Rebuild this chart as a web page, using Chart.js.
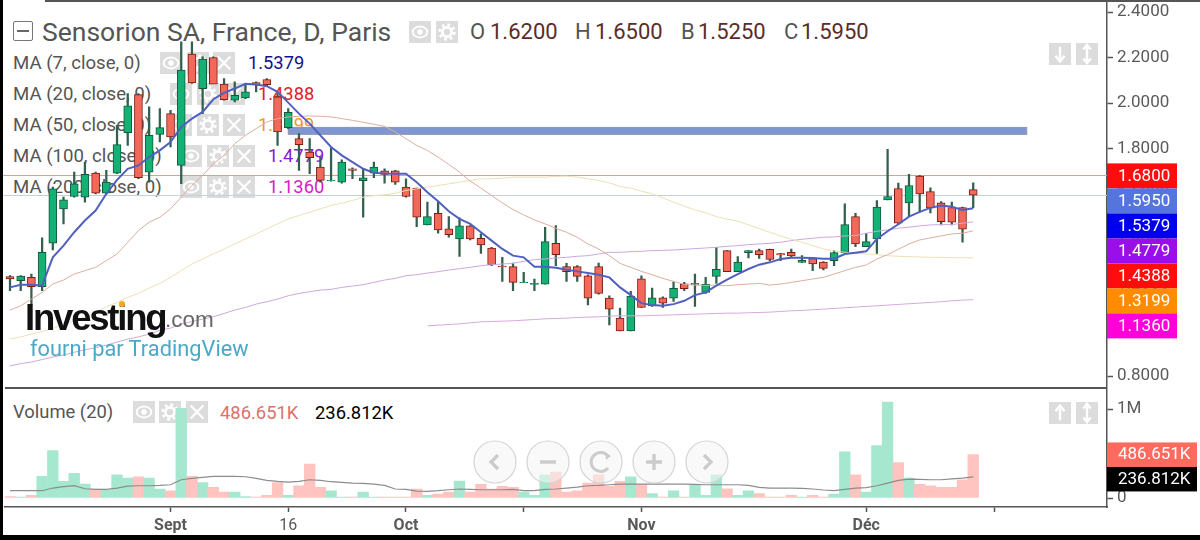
<!DOCTYPE html>
<html><head><meta charset="utf-8">
<script src="https://cdn.jsdelivr.net/npm/chart.js@4"></script>
<style>
html,body{margin:0;padding:0;background:#fff;width:1200px;height:540px;overflow:hidden}
#stage{position:relative;width:1200px;height:540px;overflow:hidden;font-family:Roboto,sans-serif}
canvas{position:absolute;left:0;z-index:1}
.t{position:absolute;white-space:nowrap;line-height:1;transform:translateY(-50%)}
.ic{position:absolute;background:#dcdcdc}
.ov{position:absolute}
</style></head><body><div id="stage">
<canvas id="main" width="1200" height="388" style="top:0;width:1200px;height:388px"></canvas>
<canvas id="vol" width="1200" height="147" style="top:388px;width:1200px;height:147px"></canvas>
</div>
<script>
const opens=[1.2371,1.2194,1.2341,1.1930,1.3839,1.5351,1.5895,1.5865,1.6923,1.6042,
1.6923,1.8700,2.0373,1.6967,1.8626,1.9536,1.7260,2.2150,2.0638,2.2003,
2.0829,2.0124,2.0227,2.0902,2.1034,2.0271,1.8920,1.8435,1.7848,1.7187,
1.6585,1.6526,1.7113,1.6585,1.6923,1.7021,1.7021,1.6305,1.6261,1.4646,
1.5160,1.4470,1.4029,1.4602,1.4059,1.3633,1.2840,1.2810,1.2106,1.2032,
1.2047,1.3838,1.2810,1.2810,1.2414,1.2810,1.1430,1.0549,0.9991,1.2282,
1.1092,1.1445,1.1430,1.2061,1.2032,1.1680,1.2385,1.3516,1.2591,1.3428,
1.3516,1.3575,1.3384,1.3442,1.3002,1.3163,1.3016,1.3075,1.3413,1.5013,
1.3692,1.4030,1.5748,1.6247,1.5616,1.6790,1.6115,1.5616,1.5410,1.5410,1.62];
const closes=[1.2268,1.2400,1.1930,1.3442,1.6233,1.5748,1.6453,1.6864,1.6042,1.6526,
1.8171,1.9874,1.6717,1.8582,1.8920,1.8509,2.1445,2.0887,2.1930,2.0829,
2.0153,2.0344,2.0491,2.0814,2.0814,1.8729,1.9595,1.8171,1.7598,1.6600,
1.6600,1.7407,1.7040,1.6717,1.7187,1.6864,1.6526,1.5894,1.4984,1.5013,
1.4426,1.4220,1.4602,1.4029,1.3765,1.2899,1.2796,1.2120,1.2135,1.2076,
1.3912,1.3339,1.2590,1.2385,1.1430,1.1636,1.0945,0.9991,1.1518,1.1019,
1.1445,1.1210,1.1856,1.1841,1.2076,1.2047,1.2693,1.2591,1.3016,1.3516,
1.3340,1.3134,1.3325,1.3281,1.3090,1.2928,1.2737,1.3428,1.4661,1.3809,
1.3912,1.5425,1.5895,1.4720,1.6379,1.6012,1.5395,1.4793,1.4764,1.4455,1.595];
const highs=[1.2415,1.2415,1.2488,1.4074,1.6306,1.5865,1.6967,1.7407,1.6967,1.7040,
1.9022,2.0417,2.0417,1.9830,1.9757,1.9683,2.2693,2.2693,2.2033,2.2033,
2.1078,2.0931,2.0858,2.0931,2.1078,2.0417,1.9757,1.8655,1.8435,1.7627,
1.8039,1.7510,1.7158,1.7113,1.7407,1.7113,1.7040,1.6672,1.6261,1.5644,
1.5644,1.5013,1.4954,1.4617,1.4249,1.3662,1.3222,1.2972,1.2561,1.2267,
1.4543,1.4617,1.2957,1.2854,1.2458,1.2972,1.1533,1.0990,1.1724,1.2414,
1.1871,1.1489,1.2150,1.2120,1.2487,1.2341,1.3663,1.3516,1.3251,1.3516,
1.3589,1.3589,1.3398,1.3589,1.3296,1.3178,1.3031,1.3516,1.5571,1.5160,
1.4279,1.5718,1.7965,1.6482,1.6864,1.6820,1.6276,1.5674,1.5645,1.5425,1.65];
const lows=[1.1754,1.1754,1.1167,1.1754,1.3545,1.4691,1.5865,1.5645,1.6012,1.6012,
1.6893,1.8141,1.6673,1.6526,1.8288,1.8068,1.6453,2.0858,1.9536,2.0858,
2.0124,2.0050,2.0197,2.0491,2.0741,1.8141,1.8876,1.7040,1.6893,1.6526,
1.6570,1.6482,1.6673,1.4984,1.6717,1.6482,1.6423,1.5865,1.4573,1.4646,
1.4279,1.4103,1.3265,1.3985,1.3398,1.2854,1.2164,1.1753,1.2106,1.1753,
1.2047,1.2854,1.2164,1.2164,1.1136,1.1606,1.0255,0.9991,0.9991,1.1019,
1.1063,1.1019,1.1283,1.1753,1.1063,1.1636,1.2077,1.2591,1.2591,1.3193,
1.3178,1.3075,1.3075,1.3251,1.3002,1.2635,1.2664,1.2855,1.3413,1.3692,
1.3692,1.3398,1.5748,1.4661,1.5013,1.5204,1.5175,1.4646,1.4646,1.3883,1.54];
const ma7=[1.1901,1.2018,1.2018,1.1974,1.3222,1.3736,1.4324,1.4838,1.5278,1.6012,
1.6629,1.7113,1.7260,1.7627,1.7921,1.8288,1.8949,1.9316,1.9610,2.0168,
2.0447,2.0638,2.0843,2.0814,2.0741,2.0491,2.0021,1.9536,1.9096,1.8582,
1.8068,1.7701,1.7407,1.7113,1.6937,1.6908,1.6893,1.6893,1.6525,1.6085,
1.5689,1.5248,1.4910,1.4690,1.4323,1.3956,1.3589,1.3295,1.3222,1.2810,
1.2810,1.2766,1.2678,1.2605,1.2531,1.2458,1.2340,1.1900,1.1562,1.1210,
1.1122,1.1092,1.1166,1.1313,1.1562,1.1680,1.1974,1.2238,1.2488,1.2708,
1.2899,1.3002,1.3149,1.3207,1.3207,1.3193,1.3163,1.3163,1.3369,1.3428,
1.3486,1.4030,1.4367,1.4676,1.5013,1.5219,1.5395,1.5498,1.5445,1.5307,1.5379];
const ma20=[1.0902,1.1093,1.1387,1.1681,1.2048,1.2224,1.2488,1.2635,1.2782,1.3076,
1.3369,1.3883,1.4397,1.4764,1.4984,1.5351,1.5865,1.6379,1.6820,1.7334,
1.7701,1.8215,1.8582,1.8876,1.9169,1.9316,1.9390,1.9419,1.9434,1.9419,
1.9390,1.9316,1.9243,1.9155,1.9067,1.8978,1.8729,1.8434,1.8141,1.7920,
1.7627,1.7304,1.6966,1.6570,1.6261,1.5938,1.5615,1.5321,1.5087,1.4866,
1.4690,1.4499,1.4323,1.4103,1.3809,1.3589,1.3295,1.2957,1.2781,1.2605,
1.2458,1.2297,1.2164,1.2032,1.2000,1.1990,1.2000,1.1974,1.2018,1.2047,
1.2077,1.2003,1.2047,1.2121,1.2194,1.2268,1.2341,1.2488,1.2635,1.2782,
1.2884,1.3149,1.3340,1.3575,1.3809,1.3986,1.4074,1.4162,1.4250,1.4279,1.4388];
const ma50=[0.9625,0.9727,0.9845,0.9962,1.0095,1.0256,1.0432,1.0609,1.0800,1.1049,
1.1240,1.1460,1.1636,1.1871,1.2077,1.2341,1.2635,1.2929,1.3149,1.3369,
1.3589,1.3810,1.4030,1.4250,1.4470,1.4691,1.4911,1.5058,1.5205,1.5351,
1.5498,1.5601,1.5719,1.5865,1.5930,1.5968,1.6041,1.6158,1.6232,1.6305,
1.6379,1.6452,1.6525,1.6599,1.6672,1.6672,1.6702,1.6746,1.6746,1.6746,
1.6746,1.6775,1.6790,1.6746,1.6672,1.6599,1.6496,1.6335,1.6261,1.6129,
1.6012,1.5835,1.5644,1.5468,1.5307,1.5175,1.5013,1.4896,1.4808,1.4646,
1.4485,1.4323,1.4162,1.4015,1.3883,1.3736,1.3589,1.3501,1.3442,1.3398,
1.3369,1.3340,1.3295,1.3266,1.3251,1.3237,1.3222,1.3222,1.3207,1.3207,1.3199];
const ma100=[0.845,0.855,0.862,0.873,0.884,0.893,0.905,0.916,0.925,0.936,
0.950,0.9625,0.9727,0.9845,1.0021,1.0109,1.0285,1.0403,1.0506,1.0609,
1.0755,1.0902,1.1020,1.1167,1.1269,1.1387,1.1534,1.1636,1.1710,1.1783,
1.1813,1.1901,1.1960,1.2018,1.2121,1.2224,1.2297,1.2414,1.2458,1.2531,
1.2590,1.2664,1.2722,1.2781,1.2854,1.2899,1.2928,1.2957,1.3045,1.3119,
1.3148,1.3192,1.3222,1.3266,1.3295,1.3368,1.3442,1.3442,1.3471,1.3486,
1.3515,1.3530,1.3545,1.3574,1.3603,1.3633,1.3662,1.3706,1.3736,1.3780,
1.3809,1.3839,1.3883,1.3956,1.4015,1.4059,1.4103,1.4118,1.4162,1.4177,
1.4279,1.4367,1.4426,1.4500,1.4544,1.4602,1.4646,1.4661,1.4661,1.4720,1.4779];
const ma200=[null,null,null,null,null,null,null,null,null,null,
null,null,null,null,null,null,null,null,null,null,
null,null,null,null,null,null,null,null,null,null,
null,null,null,null,null,null,null,null,null,1.0211,
1.0241,1.0270,1.0299,1.0343,1.0388,1.0402,1.0417,1.0432,1.0461,1.0490,
1.0520,1.0534,1.0549,1.0579,1.0593,1.0608,1.0637,1.0652,1.0652,1.0652,
1.0666,1.0681,1.0696,1.0711,1.0725,1.0740,1.0755,1.0769,1.0770,1.0784,
1.0799,1.0814,1.0843,1.0873,1.0887,1.0917,1.0946,1.0975,1.1005,1.1034,
1.1063,1.1093,1.1122,1.1152,1.1181,1.1210,1.1240,1.1269,1.1313,1.1342,1.1360];
const volumes=[15,11,30,243,534,187,276,157,100,90,
261,224,239,224,100,82,1007,243,172,119,
67,67,15,11,30,172,30,138,381,119,
82,11,11,67,11,11,11,11,100,30,
45,67,190,67,153,100,130,119,67,30,
261,291,67,82,168,261,130,187,239,149,
49,11,82,11,149,30,261,104,30,82,
49,11,11,30,11,30,11,45,519,261,
67,590,1078,399,224,153,138,119,119,205,486.651];
const volumeMa=[82,82,82,82,112,127,138,104,97,97,
112,134,138,138,142,149,205,220,231,243,
243,243,239,220,198,187,179,187,205,198,
183,175,168,164,157,142,101,97,78,75,
82,93,101,97,93,93,93,97,82,82,
97,101,112,123,138,142,149,157,157,157,
157,157,157,157,153,149,149,149,149,142,
119,112,112,112,108,101,90,82,97,112,
116,138,168,198,213,209,205,205,216,224,236.812];
const priceTicks=[2.4,2.2,2.0,1.8,1.6,1.4,1.2,1.0,0.8];
const volumeTicks=[1000,0];
const dateTickIndex=[15,26,37,48,59,80,92];
const dateTickLabels=['Sept','16','Oct','','Nov','Déc',''];
const dateTickBold=[true,false,true,false,true,true,false];
const priceTagValues=[1.68,1.595,1.5379,1.4779,1.4388,1.3199,1.136];
const priceTagColors=['#ff0d0d','#5476dc','#0000ee','#9a0fe8','#ff0d0d','#ff8c00','#ff00d8'];
const volTagValues=[486.651,236.812];
const volTagLabels=['486.651K','236.812K'];
const volTagColors=['#ff6a5e','#000000'];
const refLevels=[1.684,1.595];
const refColors=['#dba095','#c2d0e2'];
const zoneTop=1.893, zoneBottom=1.8626, zoneFrom=26, zoneTo=95;
const slotCount=103;
const categories=Array.from({length:slotCount},(_,i)=>String(i));

const UP='#13b173',DOWN='#f2685a',UPB='#14583c',DOWNB='#7e1c12',WICK='#33604c';
const isUp=i=>closes[i]>=opens[i];

const zone={id:'zone',beforeDatasetsDraw(c){
  const {ctx,scales:{x,y},chartArea:a}=c;ctx.save();
  refLevels.forEach((v,i)=>{const p=Math.round(y.getPixelForValue(v))+.5;ctx.strokeStyle=refColors[i];ctx.lineWidth=1;ctx.beginPath();ctx.moveTo(a.left-2,p);ctx.lineTo(a.right,p);ctx.stroke();});
  const x0=x.getPixelForValue(zoneFrom),x1=x.getPixelForValue(zoneTo),y0=y.getPixelForValue(zoneTop),y1=y.getPixelForValue(zoneBottom);
  ctx.fillStyle='#7f96d0';ctx.strokeStyle='#8a95b5';ctx.lineWidth=1;ctx.fillRect(x0,y0,x1-x0,y1-y0);ctx.strokeRect(x0,y0,x1-x0,y1-y0);ctx.restore();
}};
function tagPlugin(values,labels,colors,width,h){return {id:'tags',afterDraw(c){
  const {ctx,scales:{y},chartArea:a}=c;ctx.save();let last=-1e9;
  ctx.font='17px Roboto';ctx.textBaseline='middle';
  values.forEach((v,i)=>{let p=Math.max(y.getPixelForValue(v),last+h);last=p;
    ctx.fillStyle=colors[i];ctx.fillRect(a.right,p-h/2,width,h);
    ctx.fillStyle='#fff';ctx.textAlign='left';ctx.fillText(labels[i],a.right+11,p+.5);});
  ctx.restore();
}};}
const line=(data,color,w,order)=>({type:'line',data,borderColor:color,borderWidth:w,pointRadius:0,tension:0,order,spanGaps:false});
const noPad=s=>{s.paddingTop=0;s.paddingBottom=0;s.paddingLeft=0;s.paddingRight=0;};
const rightAxis=(min,max,ticks,fmt)=>({position:'right',min,max,
  afterBuildTicks:s=>{s.ticks=ticks.map(v=>({value:v}));},
  afterFit:s=>{s.width=93;noPad(s);},
  border:{color:'#555',width:1.5},
  grid:{drawOnChartArea:false,drawTicks:true,tickLength:6,tickColor:'#555',tickWidth:1.5},
  ticks:{callback:fmt,color:'#5a5a5a',font:{family:'Roboto',size:17},padding:4,autoSkip:false}});

new Chart(document.getElementById('main'),{
  data:{labels:categories,datasets:[
    line(ma7,'#4f60bf',2,1),
    line(ma20,'#dcae9f',1,2),
    line(ma50,'#efdfb6',1,3),
    line(ma100,'#cba9dd',1,4),
    line(ma200,'#d7a8dd',1,5),
    {type:'bar',order:7,data:highs.map((h,i)=>[lows[i],h]),backgroundColor:WICK,barThickness:1.6,grouped:false},
    {type:'bar',order:6,data:opens.map((o,i)=>[o,closes[i]]),grouped:false,barThickness:8,borderWidth:1,borderSkipped:false,
      backgroundColor:c=>isUp(c.dataIndex)?UP:DOWN,borderColor:c=>isUp(c.dataIndex)?UPB:DOWNB}
  ]},
  options:{animation:false,responsive:false,devicePixelRatio:1,
    layout:{padding:{left:4.65,right:0,top:0,bottom:0}},
    plugins:{legend:{display:false},tooltip:{enabled:false}},
    scales:{x:{type:'category',display:false,offset:true},
      y:rightAxis(0.748,2.4529,priceTicks,v=>v.toFixed(4))}},
  plugins:[zone,tagPlugin(priceTagValues,priceTagValues.map(v=>v.toFixed(4)),priceTagColors,70,25)]
});
new Chart(document.getElementById('vol'),{
  data:{labels:categories,datasets:[
    line(volumeMa,'#8c8c8c',1.2,1),
    {type:'bar',order:2,data:volumes,barPercentage:1,categoryPercentage:1,
      backgroundColor:c=>isUp(c.dataIndex)?'#a6e8cf':'#ffc4bf'}
  ]},
  options:{animation:false,responsive:false,devicePixelRatio:1,
    layout:{padding:{left:4.65,right:0,top:0,bottom:0}},
    plugins:{legend:{display:false},tooltip:{enabled:false}},
    scales:{x:{type:'category',offset:true,
        afterBuildTicks:s=>{s.ticks=dateTickIndex.map(v=>({value:v}));},
        afterFit:s=>{s.height=28;noPad(s);},
        border:{color:'#555',width:1.5},
        grid:{offset:false,drawOnChartArea:false,tickLength:5,tickColor:'#555',tickWidth:1.5},
        ticks:{autoSkip:false,maxRotation:0,minRotation:0,padding:4,color:'#5a5a5a',
          callback:(v,i)=>dateTickLabels[i],
          font:c=>({family:'Roboto',size:16,weight:dateTickBold[c.index]?'bold':'normal'})}},
      y:rightAxis(-101,1236,volumeTicks,v=>v===0?'0':'1M')}},
  plugins:[tagPlugin(volTagValues,volTagLabels,volTagColors,90,24.5)]
});

/* overlays */
const stage=document.getElementById('stage');
function el(html,css,cls,z){const d=document.createElement('div');d.className=cls||'ov';d.style.cssText=css+';z-index:'+(z==null?0:z);d.innerHTML=html;stage.appendChild(d);return d;}
function txt(x,y,s,size,color,extra,z){return el(s,`left:${x}px;top:${y}px;font-size:${size}px;color:${color};${extra||''}`,'t',z);}
const glyphs={
 eye:'<ellipse cx="12" cy="12" rx="8" ry="6" fill="none" stroke="#fff" stroke-width="2"/><circle cx="12" cy="12" r="3" fill="#fff"/>',
 gear:'<circle cx="12" cy="12" r="5" fill="none" stroke="#fff" stroke-width="3"/><circle cx="12" cy="12" r="8" fill="none" stroke="#fff" stroke-width="3" stroke-dasharray="3 3.3"/>',
 x:'<path d="M5 5L19 19M19 5L5 19" stroke="#fff" stroke-width="2.4"/>',
 down:'<path d="M12 4V17M7 14L12 20L17 14" fill="none" stroke="#fff" stroke-width="2.6"/>',
 up:'<path d="M12 20V7M7 10L12 4L17 10" fill="none" stroke="#fff" stroke-width="2.6"/>',
 both:'<path d="M12 3V21M8 7L12 2L16 7M8 17L12 22L16 17" fill="none" stroke="#fff" stroke-width="2.6"/>'};
function icon(x,y,name,z){el(`<svg width="22" height="22" viewBox="0 0 24 24">${glyphs[name]}</svg>`,`left:${x}px;top:${y}px;width:22px;height:22px`,'ic',z);}

/* frame */
el('','left:0;top:0;width:3px;height:540px;background:#000','ov',5);
el('','left:0;top:535px;width:1200px;height:5px;background:#000','ov',5);
el('','left:45px;top:0;width:1155px;height:2px;background:#555','ov',5);
el('','left:5px;top:387px;width:1102px;height:2px;background:#555','ov',5);

/* header */
el('<div style="position:absolute;left:3px;right:3px;top:8px;height:2px;background:#666"></div>','left:13px;top:21px;width:18px;height:18px;border:1.5px solid #777;border-radius:2px');
txt(42,32,'Sensorion SA, France, D, Paris',26.5,'#555');
icon(409,21,'eye');icon(436,21,'gear');
[[470,'O',490,'1.6200'],[575,'H',595,'1.6500'],[681,'B',698,'1.5250'],[784,'C',801,'1.5950']].forEach(r=>{
  txt(r[0],32,r[1],22,'#555');txt(r[2],32,r[3],22,'#5a2c2a');});

/* legend */
const maRows=[['MA (7, close, 0)',63,160,'1.5379',248,'#12128c'],['MA (20, close, 0)',94,170,'1.4388',258,'#e02222'],['MA (50, close, 0)',125,170,'1.3199',258,'#ee9a1a'],['MA (100, close, 0)',156,180,'1.4779',268,'#8a16d8'],['MA (200, close, 0)',187,180,'1.1360',268,'#d81cc8']];
maRows.forEach(r=>{txt(13,r[1],r[0],18.6,'#555');
  icon(r[2],r[1]-11,'eye');icon(r[2]+26.5,r[1]-11,'gear');icon(r[2]+53,r[1]-11,'x');
  txt(r[4],r[1],r[3],18.3,r[5]);});

/* right-side buttons */
icon(1049,43,'down');icon(1076,43,'both');icon(1049,402,'up');icon(1076,402,'both');

/* volume header */
txt(13,412,'Volume (20)',18.4,'#555');
icon(133,401,'eye');icon(159,401,'gear');icon(186,401,'x');
txt(220,413,'486.651K',18.4,'#d9736a');txt(315,413,'236.812K',18.4,'#000');

/* logo */
txt(25,318,'Investing',36.5,'#111',"font-family:'Liberation Sans';font-weight:bold;letter-spacing:-2.2px",3);
txt(165,320,'.com',22.5,'#666',"font-family:'Liberation Sans'",3);
el('','left:119px;top:301px;width:6px;height:6px;border-radius:50%;background:#f5a623','ov',3);
txt(30,349,'fourni par TradingView',21.8,'#4aa8c8','',3);

/* navigation circles */
const nav=[[495,'<path d="M25 15L18 22L25 29" fill="none" stroke="#ccc" stroke-width="3.4"/>'],
[548,'<path d="M14 22H30" stroke="#ccc" stroke-width="3.4"/>'],
[601,'<path d="M29 16A9.5 9.5 0 1 0 29 28" fill="none" stroke="#ccc" stroke-width="3"/><path d="M26 12L32 16L27 20Z" fill="#ccc"/>'],
[654,'<path d="M14 22H30M22 14V30" stroke="#ccc" stroke-width="3.4"/>'],
[707,'<path d="M19 15L26 22L19 29" fill="none" stroke="#ccc" stroke-width="3.4"/>']];
nav.forEach(n=>el(`<svg width="44" height="44"><circle cx="22" cy="22" r="21" fill="rgba(244,244,244,.55)" stroke="#d4d4d4" stroke-width="1.2"/>${n[1]}</svg>`,`left:${n[0]-22}px;top:440px;width:44px;height:44px`,'ov',3));
</script></body></html>
